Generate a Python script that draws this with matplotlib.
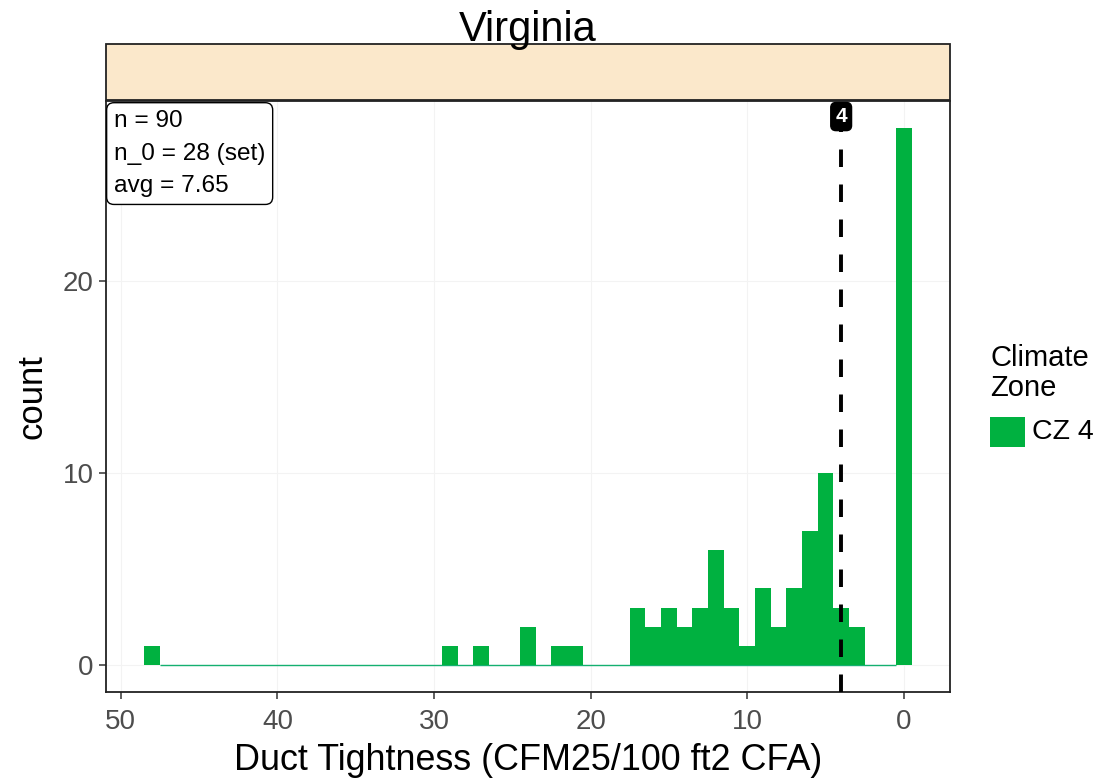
import matplotlib
matplotlib.use("Agg")
import matplotlib.pyplot as plt
from matplotlib.patches import Rectangle

plt.rcParams['font.family'] = ['Liberation Sans', 'DejaVu Sans']

# ---- data ----
title = "Virginia"
bin_centers = [48, 47, 46, 45, 44, 43, 42, 41, 40, 39, 38, 37, 36, 35, 34, 33, 32, 31, 30,
               29, 28, 27, 26, 25, 24, 23, 22, 21, 20, 19, 18, 17, 16, 15, 14, 13, 12, 11,
               10, 9, 8, 7, 6, 5, 4, 3, 2, 1, 0]
counts = [1, 0, 0, 0, 0, 0, 0, 0, 0, 0, 0, 0, 0, 0, 0, 0, 0, 0, 0,
          1, 0, 1, 0, 0, 2, 0, 1, 1, 0, 0, 0, 3, 2, 3, 2, 3, 6, 3,
          1, 4, 2, 4, 7, 10, 3, 2, 0, 0, 28]
bin_width = 1.0
vline_value = 4
stats_lines = ["n = 90", "n_0 = 28 (set)", "avg = 7.65"]
x_ticks = [50, 40, 30, 20, 10, 0]
y_ticks = [0, 10, 20]
xlabel = "Duct Tightness (CFM25/100 ft2 CFA)"
ylabel = "count"
legend_title = "Climate\nZone"
legend_label = "CZ 4"

green = "#00B140"

fig = plt.figure(figsize=(10.97, 7.82), dpi=100)
ax = fig.add_axes([0.0966, 0.1151, 0.7694, 0.7557])

# bars
ax.bar(bin_centers, counts, width=bin_width, color=green, linewidth=0, zorder=3)
ax.hlines(0, max(bin_centers) - bin_width / 2, min(bin_centers) + bin_width / 2,
          color="#14B070", linewidth=1.0, zorder=2.5)

# vertical dashed line
ax.axvline(vline_value, color="black", linestyle=(0, (4.5, 4.5)), linewidth=2.8, zorder=4)

ax.set_xlim(50.95, -2.95)
ax.set_ylim(-1.4, 29.4)
ax.set_xticks(x_ticks)
ax.set_yticks(y_ticks)
ax.set_xticklabels([str(t) for t in x_ticks])
ax.set_yticklabels([str(t) for t in y_ticks])
ax.tick_params(axis='both', labelsize=20, labelcolor="#4D4D4D", color="#333333",
               length=5, width=1.1, direction='out', pad=4)
ax.tick_params(axis='x', pad=7)

ax.grid(True, color="#F3F3F3", linewidth=0.8, zorder=0)
ax.set_axisbelow(True)
for s in ax.spines.values():
    s.set_color("#222222")
    s.set_linewidth(1.3)

ax.set_xlabel(xlabel, fontsize=25.8, color="black", labelpad=6)
ax.set_ylabel(ylabel, fontsize=25, color="black", labelpad=10)

# label of the vline
ax.annotate(str(vline_value), xy=(vline_value, 1.0), xycoords=ax.get_xaxis_transform(),
            xytext=(0, -6), textcoords='offset pixels',
            ha='center', va='top', fontsize=15, fontweight='bold', color='white', zorder=6,
            bbox=dict(boxstyle="round,pad=0.22,rounding_size=0.25", fc="black", ec="black"))

# stats box
ax.annotate("\n".join(stats_lines), xy=(0.0, 1.0), xycoords='axes fraction',
            xytext=(8, -9), textcoords='offset pixels', ha='left', va='top',
            fontsize=17.6, color="black", linespacing=1.62, zorder=6,
            bbox=dict(boxstyle="round,pad=0.3,rounding_size=0.3", fc="white", ec="black", lw=1.0))

# strip
strip_bottom = 0.8722
strip_top = 0.9437
strip = Rectangle((0.0966, strip_bottom), 0.7694, strip_top - strip_bottom, transform=fig.transFigure,
                  facecolor="#FBE8CB", edgecolor="#222222", linewidth=1.3, zorder=1)
fig.patches.append(strip)
fig.text(0.0966 + 0.7694 / 2, 0.961, title, ha='center', va='center', fontsize=30, color="black")

# legend
fig.text(0.9025, 0.523, legend_title, ha='left', va='center', fontsize=21, color="black", linespacing=1.05)
key = Rectangle((0.9025, 0.428), 0.032, 0.039, transform=fig.transFigure,
                facecolor=green, edgecolor='none')
fig.patches.append(key)
fig.text(0.9405, 0.4475, legend_label, ha='left', va='center', fontsize=20.5, color="black")

fig.savefig("out.png", dpi=100, facecolor="white")
